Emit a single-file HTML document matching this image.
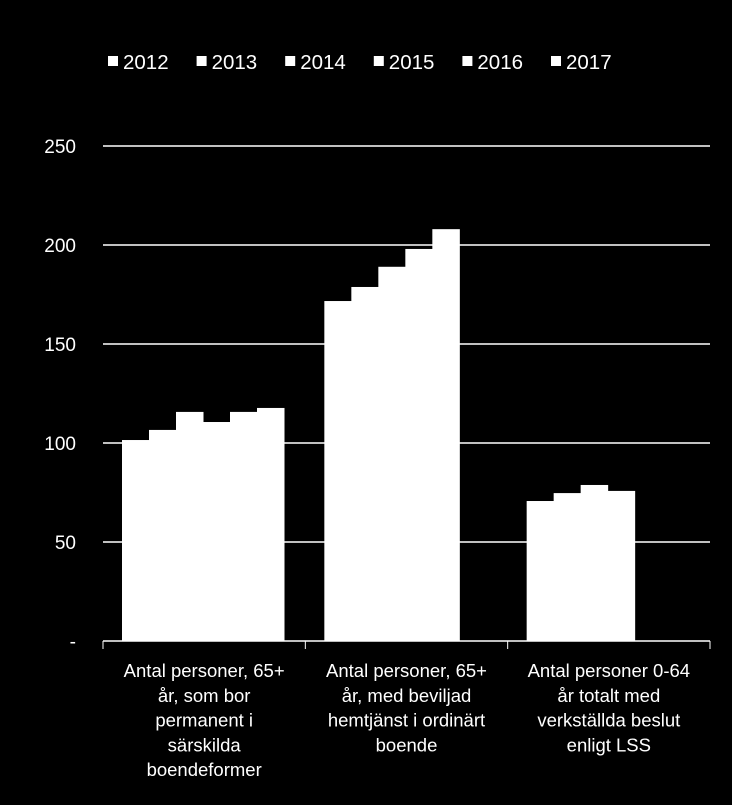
<!DOCTYPE html>
<html><head><meta charset="utf-8"><style>
body{margin:0;background:#000;}
svg text{font-family:"Liberation Sans",sans-serif;fill:#fff;}
</style></head><body>
<svg id="c" width="732" height="800" xmlns="http://www.w3.org/2000/svg">
<rect width="732" height="800" fill="#000"/>
</svg>
<script>
const years=["2012","2013","2014","2015","2016","2017"];
const categories=[["Antal personer, 65+","år, som bor","permanent i","särskilda","boendeformer"],["Antal personer, 65+","år, med beviljad","hemtjänst i ordinärt","boende"],["Antal personer 0-64","år totalt med","verkställda beslut","enligt LSS"]];
const group1=[101.5,106.6,115.7,110.6,115.7,117.7];
const group2=[171.7,178.8,189,198,208];
const group3=[70.7,74.7,78.8,75.8];
const seriesByGroup=[group1,group2,group3];
const yTicks=[0,50,100,150,200,250];
const yTickLabels=["-","50","100","150","200","250"];
const svg=document.getElementById('c');
const NS="http://www.w3.org/2000/svg";
const x0=103,x1=710,y0=641,ppu=1.98;
const y=v=>y0-v*ppu;
const catW=(x1-x0)/categories.length;
const barW=27;
function mk(t,a){const e=document.createElementNS(NS,t);for(const k in a)e.setAttribute(k,a[k]);svg.appendChild(e);return e;}
yTicks.forEach((t,i)=>{
  const g=mk('line',{x1:x0,x2:x1,y1:y(t),y2:y(t),stroke:'#fff','stroke-width':1.5});
  
  
  const l=mk('text',{x:76,y:y(t)+7,'font-size':19,'text-anchor':'end'});
  l.textContent=yTickLabels[i];
  
  
});
const ax=mk('line',{x1:x0,x2:x0,y1:y0,y2:y0+8,stroke:'#fff','stroke-width':1});
categories.forEach((c,ci)=>{
  const cx=x0+catW*ci;
  const tk=mk('line',{x1:cx+catW,x2:cx+catW,y1:y0,y2:y0+8,stroke:'#fff','stroke-width':1});
  
  
  seriesByGroup[ci].forEach((v,si)=>{
    const b=mk('rect',{x:cx+19+si*barW,y:y(v),width:barW+0.5,height:y0-y(v),fill:'#fff'});
    
    
  });
  c.forEach((ln,li)=>{
    const t=mk('text',{x:cx+catW/2,y:677+li*24.8,'font-size':18.5,'text-anchor':'middle'});
    t.textContent=ln;
    
    
  });
});
years.forEach((yr,i)=>{
  const lx=108+i*88.6;
  const m=mk('rect',{x:lx,y:56,width:10,height:10,fill:'#fff'});
  
  
  const t=mk('text',{x:lx+15,y:69,'font-size':20.5});
  t.textContent=yr;
  
  
});
</script>
</body></html>
